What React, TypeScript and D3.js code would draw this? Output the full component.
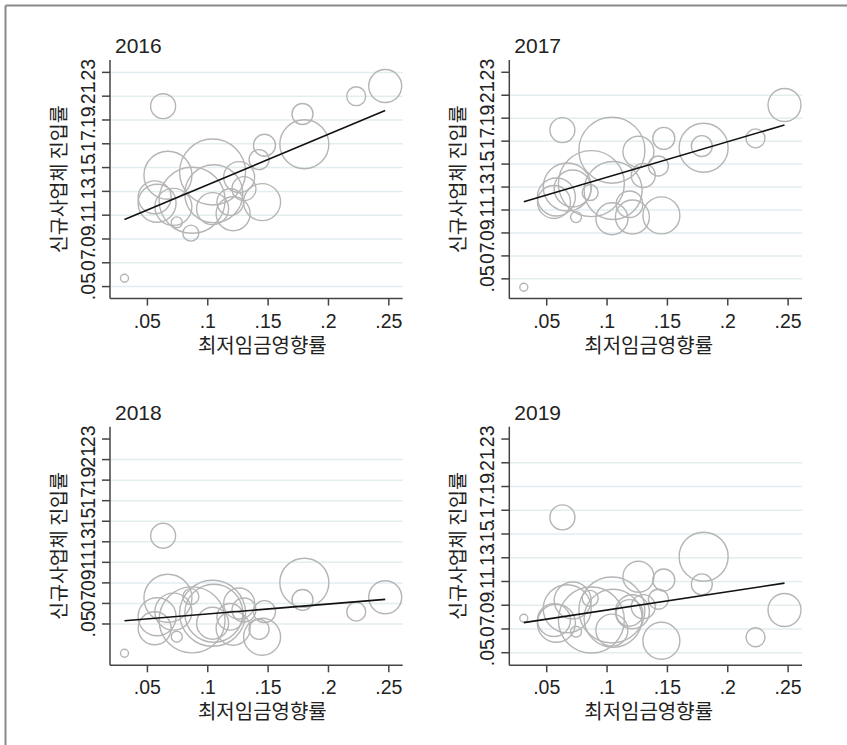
import React from "react";
import * as d3 from "d3";

// one bubble per industry: minimum-wage impact rate (x) and weight (bubble size)
const years = ["2016", "2017", "2018", "2019"];
const impactRate = [0.031, 0.063, 0.223, 0.247, 0.1785, 0.18, 0.147, 0.1425, 0.104, 0.087, 0.145, 0.126,
  0.104, 0.0715, 0.058, 0.0743, 0.086, 0.067, 0.056, 0.121, 0.13, 0.105, 0.1186];
const firmWeight = [1.6, 15.6, 9.0, 27.2, 11.0, 60.0, 12.1, 10.0, 108.9, 108.9, 34.2, 24.0,
  25.6, 34.2, 36.1, 3.0, 6.4, 57.6, 27.2, 28.9, 14.4, 84.1, 17.7];

// new firm entry rate by year
const entry2016 = [0.057, 0.2016, 0.21, 0.2185, 0.195, 0.1696, 0.1688, 0.1567, 0.1463, 0.1225, 0.121, 0.142,
  0.1155, 0.117, 0.12, 0.104, 0.0949, 0.1435, 0.125, 0.1112, 0.1323, 0.128, 0.121];
const entry2017 = [0.0427, 0.1796, 0.1724, 0.2015, 0.1657, 0.1642, 0.1724, 0.1484, 0.1621, 0.133, 0.1053, 0.1607,
  0.1024, 0.1287, 0.1213, 0.1038, 0.1252, 0.13, 0.117, 0.1039, 0.14, 0.127, 0.115];
const entry2018 = [0.0215, 0.1359, 0.062, 0.076, 0.0734, 0.0902, 0.062, 0.0448, 0.0604, 0.054, 0.0376, 0.07,
  0.0507, 0.062, 0.057, 0.0376, 0.0766, 0.075, 0.0458, 0.0458, 0.0636, 0.0604, 0.057];
const entry2019 = [0.079, 0.164, 0.063, 0.086, 0.1076, 0.1309, 0.1112, 0.095, 0.086, 0.0775, 0.0601, 0.114,
  0.069, 0.094, 0.0748, 0.0677, 0.0958, 0.087, 0.0775, 0.0845, 0.0888, 0.079, 0.0835];
const entryByYear = [entry2016, entry2017, entry2018, entry2019];

// linear fit per year
const fitSlope = [0.4238, 0.31, 0.0962, 0.154];
const fitIntercept = [0.0932, 0.1075, 0.0502, 0.0706];

const yTicks = [0.05, 0.07, 0.09, 0.11, 0.13, 0.15, 0.17, 0.19, 0.21, 0.23];
const xTicks = [0.05, 0.1, 0.15, 0.2, 0.25];
const yDomains = [[0.0399, 0.2404], [0.0328, 0.2407], [0.0098, 0.242], [0.0394, 0.2404]];
const xDomain = [0.019, 0.2615];
const topGrid = [true, false, false, false];

const xTitle = "최저임금영향률";
const yTitle = "신규사업체 진입률";

const W = 847, H = 745;
const plotW = 292.7, plotH = 238.6;
const colLeft = [110, 509.3];
const rowTop = [60, 426.7];
const xTitleShift = [6, -7];

const latin = "'Liberation Sans', Arial, sans-serif";
const korean = "'Noto Sans CJK KR', 'Noto Sans', sans-serif";
const ink = "#222";

const fmt = (v: number) => String(+v.toFixed(2)).replace(/^0/, "");

function Panel({ i }: { i: number }) {
  const col = i % 2, row = Math.floor(i / 2);
  const left = colLeft[col], top = rowTop[row];
  const x = d3.scaleLinear().domain(xDomain).range([0, plotW]);
  const y = d3.scaleLinear().domain(yDomains[i]).range([plotH, 0]);
  const r = d3.scaleSqrt().domain([0, d3.max(firmWeight) as number]).range([0, 33]);
  const ys = entryByYear[i];
  const xMin = d3.min(impactRate) as number, xMax = d3.max(impactRate) as number;
  const fit = (v: number) => fitIntercept[i] + fitSlope[i] * v;
  const line = d3.line<number>().x(v => x(v)).y(v => y(fit(v)));
  const order = d3.range(impactRate.length);
  const grid = yTicks.filter((t, k) => topGrid[i] || k < yTicks.length - 1);

  return (
    <g transform={`translate(${left},${top})`}>
      {grid.map(t => (
        <line key={"g" + t} x1={0} x2={plotW} y1={y(t)} y2={y(t)} stroke="#e3edf0" strokeWidth={1.5} />
      ))}
      {order.map(k => (
        <circle key={k} cx={x(impactRate[k])} cy={y(ys[k])} r={r(firmWeight[k])}
          fill="none" stroke="#b5b5b5" strokeWidth={1.4} />
      ))}
      <path d={line([xMin, xMax]) || ""} stroke="#111" strokeWidth={1.6} fill="none" />
      <line x1={0} x2={0} y1={0} y2={plotH} stroke="#444" strokeWidth={1.5} />
      <line x1={0} x2={plotW} y1={plotH} y2={plotH} stroke="#444" strokeWidth={1.5} />
      {yTicks.map(t => (
        <g key={"y" + t}>
          <line x1={-8} x2={0} y1={y(t)} y2={y(t)} stroke="#444" strokeWidth={1.5} />
          <text transform={`translate(-15,${y(t)}) rotate(-90)`} textAnchor="middle"
            fontFamily={latin} fontSize={19.5} fill={ink}>{fmt(t)}</text>
        </g>
      ))}
      {xTicks.map(t => (
        <g key={"x" + t}>
          <line x1={x(t)} x2={x(t)} y1={plotH} y2={plotH + 7} stroke="#444" strokeWidth={1.5} />
          <text x={x(t)} y={plotH + 29} textAnchor="middle" fontFamily={latin} fontSize={19.5} fill={ink}>{fmt(t)}</text>
        </g>
      ))}
      <text x={plotW / 2 + xTitleShift[col]} y={plotH + 54} textAnchor="middle" fontFamily={korean} fontSize={20} fill={ink}>{xTitle}</text>
      <text transform={`translate(-44,${plotH / 2}) rotate(-90)`} textAnchor="middle" fontFamily={korean} fontSize={19.5} fill={ink}>{yTitle}</text>
      <text x={5} y={-7} fontFamily={latin} fontSize={21} fill={ink}>{years[i]}</text>
    </g>
  );
}

export default function App() {
  return (
    <svg width={W} height={H} style={{ position: "absolute", left: 0, top: 0, background: "#fff" }}>
      <rect x={0} y={0} width={W} height={H} fill="#fff" />
      <line x1={5.5} x2={W} y1={5.5} y2={5.5} stroke="#8a8a8a" strokeWidth={2} />
      <line x1={5.5} x2={5.5} y1={5.5} y2={H} stroke="#8a8a8a" strokeWidth={2} />
      {years.map((_, i) => <Panel key={i} i={i} />)}
    </svg>
  );
}
